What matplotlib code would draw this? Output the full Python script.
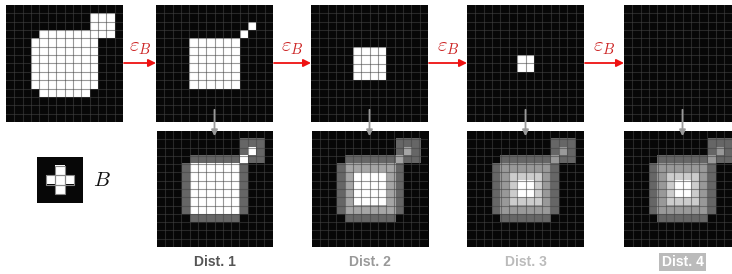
import matplotlib
matplotlib.use('Agg')

import matplotlib.pyplot as plt
from matplotlib.patches import FancyArrowPatch
import numpy as np

plt.rcParams['mathtext.fontset'] = 'cm'

# shape A on a 14x14 grid: (row, first col, last col) of white runs
shape_runs = [(1, 10, 12), (2, 10, 12), (3, 4, 12),
              (4, 3, 10), (5, 3, 10), (6, 3, 10), (7, 3, 10), (8, 3, 10), (9, 3, 10),
              (10, 4, 9)]
grid_n = 14

# structuring element B (cross) on a 5x5 grid
b_cells = [(1, 2), (2, 1), (2, 2), (2, 3), (3, 2)]

# grey level for each distance value, per distance map
dist_labels = ['Dist. 1', 'Dist. 2', 'Dist. 3', 'Dist. 4']
dist_greys = [[0.0, 0.4, 1.0],
              [0.0, 0.4, 0.65, 1.0],
              [0.0, 0.4, 0.6, 0.8, 1.0],
              [0.0, 0.4, 0.6, 0.8, 1.0]]
label_colors = ['#555555', '#999999', '#bbbbbb', 'white']

A = np.zeros((grid_n, grid_n), dtype=int)
for r, c0, c1 in shape_runs:
    A[r, c0:c1 + 1] = 1


def erode(img):
    p = np.pad(img, 1)
    return (p[1:-1, 1:-1] & p[:-2, 1:-1] & p[2:, 1:-1] & p[1:-1, :-2] & p[1:-1, 2:])


steps = [A]
for i in range(4):
    steps.append(erode(steps[-1]))

W, H = 732, 274
fig = plt.figure(figsize=(W / 100, H / 100), dpi=100)


def add_px_axes(x, y, w, h):
    return fig.add_axes([x / W, 1 - (y + h) / H, w / W, h / H])


def draw_grid(ax, img, n):
    ax.imshow(img, cmap='gray', vmin=0, vmax=1, interpolation='nearest',
              extent=(0, n, n, 0))
    for k in range(1, n):
        ax.axhline(k, color='#444444', lw=0.8, alpha=0.55)
        ax.axvline(k, color='#444444', lw=0.8, alpha=0.55)
    ax.set_xlim(0, n)
    ax.set_ylim(n, 0)
    ax.set_axis_off()


top_x = [6, 156, 311, 467, 624]
pw, ph = 117, 117
top_y = 5
bot_y = 131

for i, x in enumerate(top_x):
    ax = add_px_axes(x, top_y, pw, ph)
    img = np.where(steps[i] > 0, 1.0, 0.03)
    draw_grid(ax, img, grid_n)

for i in range(4):
    x = top_x[i + 1]
    ax = add_px_axes(x, bot_y, pw, 116)
    dist = sum(steps[:i + 2])
    greys = np.array(dist_greys[i])
    img = greys[dist]
    img[dist == 0] = 0.03
    draw_grid(ax, img, grid_n)
    cx = (x + pw / 2) / W
    kw = dict(ha='center', va='center', fontsize=10, fontweight='bold',
              color=label_colors[i], family='Liberation Sans')
    if i == 3:
        kw['bbox'] = dict(boxstyle='square,pad=0.15', fc='#bbbbbb', ec='none')
    fig.text(cx, 1 - 262 / H, dist_labels[i], **kw)

    # grey arrow down from the eroded image to its distance map
    fig.add_artist(FancyArrowPatch((cx, 1 - 107 / H), (cx, 1 - 139 / H),
                                   transform=fig.transFigure, arrowstyle='-|>',
                                   mutation_scale=9, color='#999999', lw=1.3))

# red erosion arrows
for i in range(4):
    x0 = top_x[i] + pw + 1
    x1 = top_x[i + 1]
    fig.add_artist(FancyArrowPatch((x0 / W, 1 - 63 / H), (x1 / W, 1 - 63 / H),
                                   transform=fig.transFigure, arrowstyle='-|>',
                                   mutation_scale=11, color='#ee1111', lw=1.3,
                                   shrinkA=0, shrinkB=0))
    fig.text((x0 + x1) / 2 / W, 1 - 47 / H, r'$\varepsilon_B$', ha='center',
             va='center', fontsize=15, color='#cc2222')

# structuring element B
b_img = np.full((5, 5), 0.03)
for r, c in b_cells:
    b_img[r, c] = 1.0
axb = add_px_axes(37, 157, 46, 46)
axb.imshow(b_img, cmap='gray', vmin=0, vmax=1, interpolation='nearest',
           extent=(0, 5, 5, 0))
for r, c in b_cells:
    axb.add_patch(plt.Rectangle((c, r), 1, 1, fill=False, ec='#888888', lw=0.8))
axb.set_xlim(0, 5)
axb.set_ylim(5, 0)
axb.set_axis_off()
fig.text(102 / W, 1 - 180 / H, r'$B$', ha='center', va='center', fontsize=15,
         color='#111111')

fig.savefig('out.png', dpi=100)
